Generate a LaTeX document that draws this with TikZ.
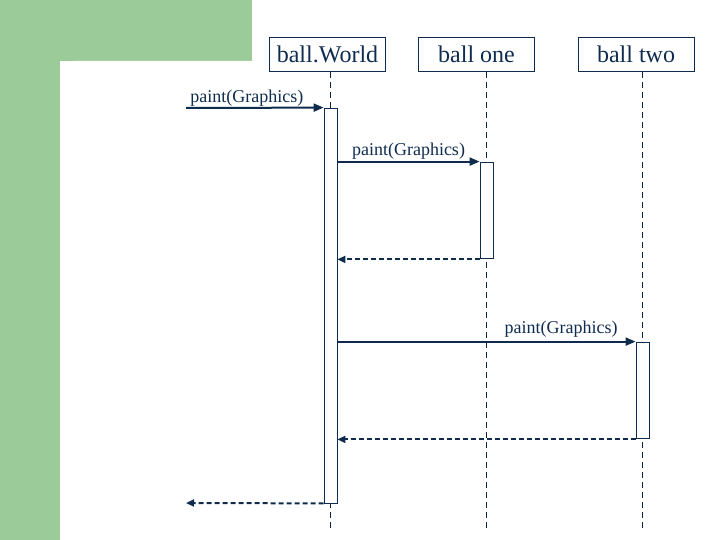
\documentclass[tikz,border=0pt]{standalone}
\usepackage{fontspec}
\setmainfont{Liberation Serif}
\usetikzlibrary{arrows.meta}
\definecolor{grn}{HTML}{9CCB9A}
\definecolor{navy}{HTML}{0F2C4F}
\begin{document}
\begin{tikzpicture}[x=1pt,y=-1pt,
  obj/.style={draw=navy,line width=0.8pt,minimum width=116pt,minimum height=34pt,inner sep=0pt,font=\fontsize{24}{26}\selectfont,text=navy},
  life/.style={draw=navy!80!black,line width=0.8pt,dash pattern=on 6pt off 4pt},
  act/.style={draw=navy,fill=white,line width=0.8pt},
  msg/.style={draw=navy,line width=2pt,-{Triangle[length=10pt,width=8pt]}},
  ret/.style={draw=navy,line width=2pt,dash pattern=on 5pt off 3pt,-{Triangle[length=8pt,width=7pt]}},
  lbl/.style={font=\fontsize{18}{20}\selectfont,text=navy,inner sep=1pt}]
\useasboundingbox (0,0) rectangle (720,540);
\fill[grn] (0,0) rectangle (252,61);
\fill[grn] (0,0) rectangle (60,540);
\fill[white] (60,540) -- (60,76) arc[start angle=180,end angle=270,radius=15] -- (252,61) -- (252,540) -- cycle;
\node[obj] (w) at (327.5,54.5) {ball.World};
\node[obj] (o) at (476.5,54.5) {ball one};
\node[obj] (t) at (636,54.5) {ball two};
\coordinate (we) at (330,530);
\coordinate (oe) at (486,530);
\coordinate (te) at (642,530);
\draw[life] (330,72) -- (we);
\draw[life] (486,72) -- (oe);
\draw[life] (642,72) -- (te);
\node[act,minimum width=13pt,minimum height=395pt,inner sep=0pt] (aw) at (330.5,305.5) {};
\node[act,minimum width=13pt,minimum height=96pt,inner sep=0pt] (ao) at (486.5,210) {};
\node[act,minimum width=13pt,minimum height=96pt,inner sep=0pt] (at) at (642.5,390) {};
\coordinate (s0) at (186,108);
\coordinate (s1) at (186,503);
\draw[msg] (s0) -- (aw.north west) node[lbl,midway,above,yshift=-1pt,xshift=-8pt] {paint(Graphics)};
\draw[msg] (aw.east |- ao.north) -- (ao.north west) node[lbl,midway,above,yshift=0pt] {paint(Graphics)};
\draw[ret] ([yshift=-1pt]ao.south west) -- ([yshift=-1pt]aw.east |- ao.south);
\draw[msg] (aw.east |- at.north) -- (at.north west) node[lbl,pos=0.75,above,yshift=2pt] {paint(Graphics)};
\draw[ret] ([yshift=-1pt]at.south west) -- ([yshift=-1pt]aw.east |- at.south);
\draw[ret] (aw.south west) -- (s1);
\end{tikzpicture}
\end{document}
